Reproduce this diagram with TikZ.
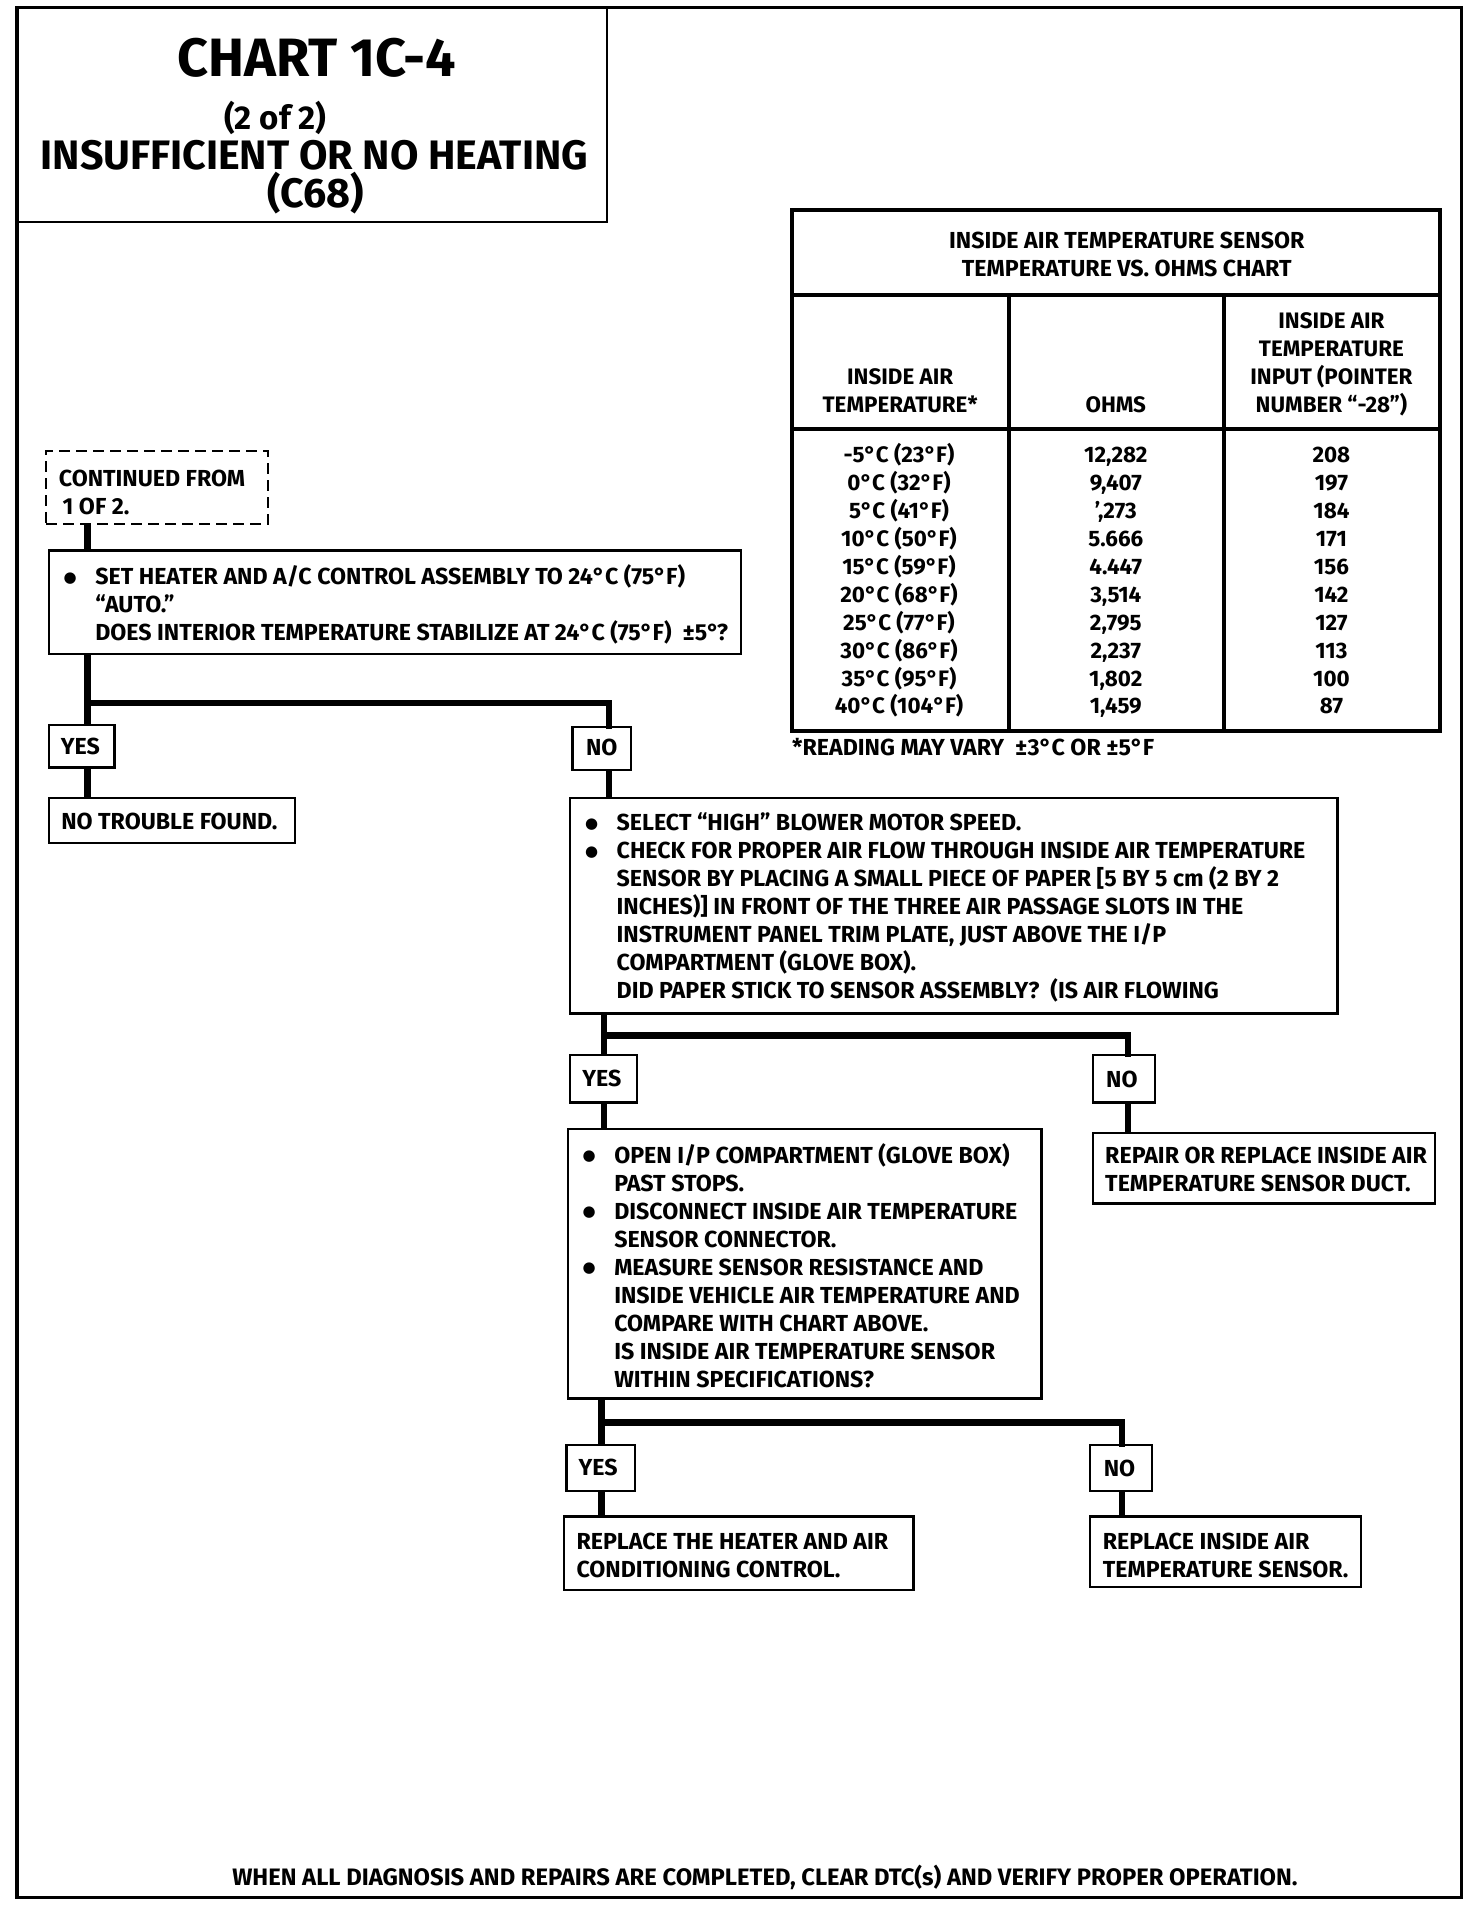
\documentclass[tikz,border=0pt]{standalone}
\usepackage{fontspec}
\setmainfont{Fira Sans}
\newfontfamily\dejavu{DejaVu Sans}
\usetikzlibrary{fit}
\newcommand{\bodyf}{\bfseries\fontsize{11.6}{14}\selectfont}
\newcommand{\tabf}{\bfseries\fontsize{11.2}{14}\selectfont}
\newcommand{\Ln}[1]{\hbox{#1}}
\newcommand{\Dot}{\raisebox{1.3pt}{\dejavu\fontsize{7.5}{8}\selectfont ●}}
\newcommand{\Bl}[1]{\hbox{\makebox[15.8pt][l]{\Dot}#1}}
\newcommand{\Cl}[1]{\hbox{\hspace*{15.8pt}#1}}
\newcommand{\Stack}[1]{\vtop{\baselineskip=14pt\lineskiplimit=-10pt #1}}
\tikzset{
  box/.style={draw, line width=1.1pt, inner sep=0pt},
  dbox/.style={draw, line width=1pt, dash pattern=on 5.5pt off 3pt, inner sep=0pt},
  conn/.style={line width=3.3pt},
  txt/.style={anchor=base west, inner sep=0pt, font=\bodyf},
  ctxt/.style={anchor=base, inner sep=0pt, font=\bodyf},
  ttxt/.style={anchor=base, inner sep=0pt, font=\tabf},
  tline/.style={line width=2pt},
}
\begin{document}
\begin{tikzpicture}[x=0.6093pt, y=-0.6093pt]
\useasboundingbox (0,0) rectangle (1208,1568);
% frame
\node[draw, line width=1.6pt, inner sep=0pt, fit={(14,6)(1200,1558)}] (frame) {};
% title
\node[draw, line width=1.1pt, inner sep=0pt, fit={(14,6)(498,182)}] (title) {};
\node[anchor=base, inner sep=0pt, font=\bfseries\fontsize{27}{30}\selectfont] (t1) at (260,63) {CHART 1C-4};
\node[anchor=base, inner sep=0pt, font=\bfseries\fontsize{16.5}{20}\selectfont] (t2) at (226,106) {(2 of 2)};
\node[anchor=base, inner sep=0pt, font=\bfseries\fontsize{20.6}{22}\selectfont] (t3) at (258,139) {INSUFFICIENT OR NO HEATING};
\node[anchor=base, inner sep=0pt, font=\bfseries\fontsize{20.6}{22}\selectfont] (t4) at (259,170) {(C68)};

% table
\node[draw, tline, inner sep=0pt, fit={(650,172)(1182,600)}] (tab) {};
\coordinate (h1) at (650,242);
\coordinate (h2) at (650,352);
\coordinate (v1) at (828,242);
\coordinate (v2) at (1005,242);
\draw[tline] (h1) -- (h1 -| tab.east);
\draw[tline] (h2) -- (h2 -| tab.east);
\draw[tline] (v1) -- (v1 |- tab.south);
\draw[tline] (v2) -- (v2 |- tab.south);
\node[ctxt] (tt1) at (925,204) {INSIDE AIR TEMPERATURE SENSOR};
\node[ctxt] (tt2) at (925,227) {TEMPERATURE VS. OHMS CHART};
\node[ttxt] (c1a) at (739,316) {INSIDE AIR};
\node[ttxt] (c1b) at (739,339) {TEMPERATURE*};
\node[ttxt] (c2a) at (916,339) {OHMS};
\node[ttxt] (c3a) at (1093,270) {INSIDE AIR};
\node[ttxt] (c3b) at (1093,293) {TEMPERATURE};
\node[ttxt] (c3c) at (1093,316) {INPUT (POINTER};
\node[ttxt] (c3d) at (1093,339) {NUMBER “-28”)};
\foreach \ta/\tb/\tc [count=\i from 0] in {
  {-5°C (23°F)}/{12,282}/{208},
  {0°C (32°F)}/{9,407}/{197},
  {5°C (41°F)}/{’,273}/{184},
  {10°C (50°F)}/{5.666}/{171},
  {15°C (59°F)}/{4.447}/{156},
  {20°C (68°F)}/{3,514}/{142},
  {25°C (77°F)}/{2,795}/{127},
  {30°C (86°F)}/{2,237}/{113},
  {35°C (95°F)}/{1,802}/{100},
  {40°C (104°F)}/{1,459}/{87}}{
  \node[ttxt] (ra\i) at (738,{380+22.9*\i}) {\ta};
  \node[ttxt] (rb\i) at (916,{380+22.9*\i}) {\tb};
  \node[ttxt] (rc\i) at (1093,{380+22.9*\i}) {\tc};
}
\node[txt] (foot) at (650,620) {*READING MAY VARY \ ±3°C OR ±5°F};

% continued box
\node[dbox, fit={(38,370)(220,430)}] (cont) {};
\node[txt] (conttx) at (48,399) {\Stack{\Ln{CONTINUED FROM}\Ln{\,1 OF 2.}}};

% box 1
\node[box, fit={(40,452)(608,537)}] (b1) {};
\node[txt] (b1t) at (52,480) {\Stack{%
  \Bl{SET HEATER AND A/C CONTROL ASSEMBLY TO 24°C (75°F)}%
  \Cl{“AUTO.”}%
  \Cl{DOES INTERIOR TEMPERATURE STABILIZE AT 24°C (75°F) \ ±5°?}}};

% branch 1
\coordinate (j1) at (72,577);
\coordinate (k1) at (500,577);
\node[box, fit={(40,595)(94,630)}] (yes1) {};
\node[box, fit={(470,597)(518,632)}] (no1) {};
\node[ctxt] (yes1t) at (66,619) {YES};
\node[ctxt] (no1t) at (494,620) {NO};
\node[box, fit={(40,655)(242,692)}] (ntf) {};
\node[txt] (ntft) at (50,681) {NO TROUBLE FOUND.};
\draw[conn] (cont.south -| j1) -- (b1.north -| j1);
\draw[conn] (b1.south -| j1) -- (yes1.north -| j1);
\draw[conn, line cap=rect] (j1) -- (k1) -- (no1.north -| k1);
\draw[conn] (yes1.south -| j1) -- (ntf.north -| j1);

% box 2
\node[box, fit={(468,655)(1098,832)}] (b2) {};
\draw[conn] (no1.south -| k1) -- (b2.north -| k1);
\node[txt] (b2t) at (480,682) {\Stack{%
  \Bl{SELECT “HIGH” BLOWER MOTOR SPEED.}%
  \Bl{CHECK FOR PROPER AIR FLOW THROUGH INSIDE AIR TEMPERATURE}%
  \Cl{SENSOR BY PLACING A SMALL PIECE OF PAPER [5 BY 5 cm (2 BY 2}%
  \Cl{INCHES)] IN FRONT OF THE THREE AIR PASSAGE SLOTS IN THE}%
  \Cl{INSTRUMENT PANEL TRIM PLATE, JUST ABOVE THE I/P}%
  \Cl{COMPARTMENT (GLOVE BOX).}%
  \Cl{DID PAPER STICK TO SENSOR ASSEMBLY? \ (IS AIR FLOWING}}};

% branch 2
\coordinate (j2) at (496,850);
\coordinate (k2) at (926,850);
\node[box, fit={(468,866)(523,905)}] (yes2) {};
\node[box, fit={(897,866)(948,905)}] (no2) {};
\node[ctxt] (yes2t) at (494,892) {YES};
\node[ctxt] (no2t) at (921,893) {NO};
\draw[conn] (b2.south -| j2) -- (yes2.north -| j2);
\draw[conn, line cap=rect] (j2) -- (k2) -- (no2.north -| k2);

% box 3, 4
\node[box, fit={(466,927)(855,1148)}] (b3) {};
\node[box, fit={(897,930)(1178,988)}] (b4) {};
\draw[conn] (yes2.south -| j2) -- (b3.north -| j2);
\draw[conn] (no2.south -| k2) -- (b4.north -| k2);
\node[txt] (b3t) at (478,955) {\Stack{%
  \Bl{OPEN I/P COMPARTMENT (GLOVE BOX)}%
  \Cl{PAST STOPS.}%
  \Bl{DISCONNECT INSIDE AIR TEMPERATURE}%
  \Cl{SENSOR CONNECTOR.}%
  \Bl{MEASURE SENSOR RESISTANCE AND}%
  \Cl{INSIDE VEHICLE AIR TEMPERATURE AND}%
  \Cl{COMPARE WITH CHART ABOVE.}%
  \Cl{IS INSIDE AIR TEMPERATURE SENSOR}%
  \Cl{WITHIN SPECIFICATIONS?}}};
\node[txt] (b4t) at (907,955) {\Stack{%
  \Ln{REPAIR OR REPLACE INSIDE AIR}%
  \Ln{TEMPERATURE SENSOR DUCT.}}};

% branch 3
\coordinate (j3) at (494,1168);
\coordinate (k3) at (921,1168);
\node[box, fit={(465,1186)(521,1224)}] (yes3) {};
\node[box, fit={(895,1186)(946,1224)}] (no3) {};
\node[ctxt] (yes3t) at (491,1211) {YES};
\node[ctxt] (no3t) at (919,1212) {NO};
\draw[conn] (b3.south -| j3) -- (yes3.north -| j3);
\draw[conn, line cap=rect] (j3) -- (k3) -- (no3.north -| k3);

% box 5, 6
\node[box, fit={(463,1245)(750,1305)}] (b5) {};
\node[box, fit={(895,1245)(1117,1303)}] (b6) {};
\draw[conn] (yes3.south -| j3) -- (b5.north -| j3);
\draw[conn] (no3.south -| k3) -- (b6.north -| k3);
\node[txt] (b5t) at (473,1272) {\Stack{%
  \Ln{REPLACE THE HEATER AND AIR}%
  \Ln{CONDITIONING CONTROL.}}};
\node[txt] (b6t) at (905,1272) {\Stack{%
  \Ln{REPLACE INSIDE AIR}%
  \Ln{TEMPERATURE SENSOR.}}};

% bottom note
\node[anchor=base, inner sep=0pt, font=\bfseries\fontsize{11.9}{14}\selectfont] (note) at (628,1548) {WHEN ALL DIAGNOSIS AND REPAIRS ARE COMPLETED, CLEAR DTC(s) AND VERIFY PROPER OPERATION.};
\end{tikzpicture}
\end{document}
